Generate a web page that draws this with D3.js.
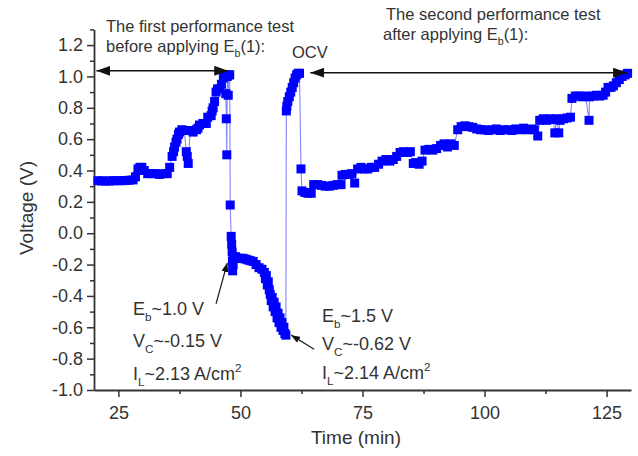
<!DOCTYPE html>
<html>
<head>
<meta charset="utf-8">
<style>
    body
    {
        margin:0;
        background:white;
    }
    text
    {
        font-family:"Liberation Sans", Arial, sans-serif;
        fill:#333;
    }
</style>
<script type="text/javascript" src="https://d3js.org/d3.v7.min.js"></script>
</head>
<body>
<svg id="chart"></svg>
<script>
    // [time (min), voltage (V)], in time order
    var firstTest = [
        [20.8,0.335],[21.6,0.333],[22.4,0.333],[23.2,0.333],[24,0.335],[24.8,0.335],[25.6,0.335],
        [26.4,0.336],[27.2,0.338],[28,0.34],[28.5,0.36],[29,0.41],[29.4,0.42],[29.8,0.42],
        [30.3,0.40],[31,0.38],[31.8,0.38],[32.6,0.38],[33.4,0.375],[34.2,0.38],[35,0.38],
        [35.5,0.42],[36,0.49],[36.3,0.52],[36.5,0.55],[36.8,0.58],[37,0.60],[37.3,0.63],
        [37.5,0.645],[38,0.66],[38.5,0.655],[38.9,0.52],[39.1,0.49],[39.3,0.445],[39.7,0.655],
        [40.3,0.645],[41,0.66],[41.3,0.67],[41.6,0.69],[42.3,0.70],[43,0.70],[43.3,0.74],
        [44,0.75],[44.2,0.78],[44.4,0.80],[44.7,0.84],[45,0.90],[45.3,0.92],[45.7,0.92],
        [46.1,0.95],[46.5,0.99],[46.8,1.01],[47,0.89],[47.1,0.73],[47.2,0.50],[47.3,1.0],
        [47.5,0.88],[47.6,1.01],[47.8,1.01]
    ];
    var breakdown = [
        [47.9,0.18],[48.1,-0.02],[48.2,-0.07],[48.3,-0.12],[48.35,-0.18],[48.4,-0.24],
        [48.5,-0.20],[48.6,-0.15],[49,-0.15],[49.5,-0.16],[50,-0.16],[50.5,-0.16],[51,-0.165],
        [51.5,-0.17],[52,-0.175],[52.6,-0.18],[53.2,-0.20],[53.8,-0.22],[54.4,-0.23],
        [54.9,-0.25],[55.1,-0.29],[55.3,-0.27],[55.5,-0.33],[55.7,-0.31],[55.9,-0.36],
        [56.1,-0.39],[56.3,-0.43],[56.5,-0.41],[56.7,-0.47],[56.9,-0.44],[57.1,-0.50],
        [57.3,-0.47],[57.5,-0.54],[57.7,-0.51],[57.9,-0.57],[58.1,-0.54],[58.3,-0.60],
        [58.5,-0.57],[58.7,-0.62],[58.9,-0.60],[59.1,-0.64],[59.3,-0.65]
    ];
    var ocvRun = [
        [59.4,0.78],[59.5,0.81],[59.7,0.84],[60,0.87],[60.3,0.90],[60.6,0.93],[60.9,0.96],
        [61.2,0.99],[61.5,1.01],[61.8,1.02],[62.1,1.02]
    ];
    var secondTest = [
        [62.4,0.41],[62.6,0.27],[63.2,0.26],[63.8,0.255],[64.5,0.255],[65,0.31],[65.8,0.31],
        [66.6,0.305],[67.4,0.30],[68.2,0.30],[69,0.305],[69.8,0.31],[70.6,0.31],[70.8,0.37],
        [71.5,0.375],[72.2,0.375],[72.8,0.38],[73.4,0.32],[74,0.41],[74.7,0.42],[75.4,0.41],
        [76.1,0.41],[76.8,0.42],[77.5,0.42],[78.3,0.44],[79,0.46],[79.8,0.47],[80.6,0.46],
        [81.3,0.47],[82,0.49],[82.7,0.515],[83.4,0.52],[84.1,0.515],[84.8,0.52],[85.4,0.445],
        [86,0.45],[86.6,0.44],[87.2,0.46],[87.8,0.53],[88.6,0.535],[89.4,0.53],[90.2,0.54],
        [91,0.56],[91.7,0.57],[92.4,0.55],[93.1,0.57],[93.8,0.56],[94.5,0.66],[95.2,0.68],
        [96,0.685],[96.8,0.68],[97.6,0.675],[98.4,0.665],[99.2,0.66],[100,0.66],[100.8,0.655],
        [101.6,0.66],[102.4,0.665],[103.2,0.655],[104,0.66],[104.8,0.66],[105.6,0.655],
        [106.4,0.665],[107.2,0.66],[108,0.67],[108.8,0.66],[109.6,0.665],[110.2,0.66],
        [110.9,0.62],[111.3,0.72],[112,0.73],[112.7,0.72],[113.4,0.73],[114.1,0.725],
        [114.4,0.64],[114.8,0.73],[115.2,0.64],[115.5,0.72],[116.2,0.73],[116.9,0.735],
        [117.6,0.74],[117.9,0.86],[118.6,0.875],[119.3,0.875],[120,0.87],[120.7,0.875],
        [121.4,0.72],[121.5,0.87],[122.2,0.875],[122.9,0.88],[123.6,0.875],[124.3,0.88],
        [124.8,0.90],[125.3,0.93],[125.9,0.93],[126.4,0.94],[127,0.96],[127.6,0.98],
        [128.2,1.0],[128.8,1.01],[129.3,1.02]
    ];

    var xTicks = [25,50,75,100,125];
    var xMinor = [37.5,62.5,87.5,112.5];
    var yTicks = [-1.0,-0.8,-0.6,-0.4,-0.2,0.0,0.2,0.4,0.6,0.8,1.0,1.2];
    var yMinor = [-0.9,-0.7,-0.5,-0.3,-0.1,0.1,0.3,0.5,0.7,0.9,1.1,1.3];

    var screen = {width:638,height:456};
    var svg = d3.select("#chart")
        .attr("width",screen.width)
        .attr("height",screen.height);

    var xScale = d3.scaleLinear()
        .domain([20,130])
        .range([94,631]);
    var yScale = d3.scaleLinear()
        .domain([-1.0,1.3])
        .range([390,29.4]);

    var defs = svg.append("defs");
    var addHead = function(id,len,wid)
    {
        defs.append("marker")
            .attr("id",id)
            .attr("viewBox","0 0 "+len+" "+wid)
            .attr("markerUnits","userSpaceOnUse")
            .attr("markerWidth",len)
            .attr("markerHeight",wid)
            .attr("refX",len)
            .attr("refY",wid/2)
            .attr("orient","auto-start-reverse")
            .append("path")
            .attr("d","M0,0L"+len+","+(wid/2)+"L0,"+wid+"Z")
            .attr("fill","#111");
    }
    addHead("bigHead",14,10);
    addHead("smallHead",9,7);

    // axes
    var drawAxes = function()
    {
        svg.append("g")
            .attr("transform","translate(0,390)")
            .call(d3.axisBottom(xScale).tickValues(xTicks).tickSize(7).tickSizeOuter(0).tickPadding(9));
        svg.append("g")
            .attr("transform","translate(0,390)")
            .call(d3.axisBottom(xScale).tickValues(xMinor).tickSize(4).tickSizeOuter(0).tickFormat(""))
            .select(".domain").remove();
        svg.append("g")
            .attr("transform","translate(94,0)")
            .call(d3.axisLeft(yScale).tickValues(yTicks).tickSize(7).tickSizeOuter(0).tickPadding(4)
                .tickFormat(function(d){return d.toFixed(1);}));
        svg.append("g")
            .attr("transform","translate(94,0)")
            .call(d3.axisLeft(yScale).tickValues(yMinor).tickSize(4).tickSizeOuter(0).tickFormat(""))
            .select(".domain").remove();

        svg.selectAll(".domain").attr("stroke","#333").attr("stroke-width",1.8);
        svg.selectAll(".tick line").attr("stroke","#333").attr("stroke-width",1.5);
        svg.selectAll(".tick text")
            .attr("font-family","Liberation Sans, Arial, sans-serif")
            .attr("font-size",18)
            .attr("fill","#333");

        svg.append("text")
            .attr("transform","translate(33,208) rotate(-90)")
            .attr("text-anchor","middle")
            .attr("font-size",19)
            .text("Voltage (V)");
        svg.append("text")
            .attr("x",356)
            .attr("y",444)
            .attr("text-anchor","middle")
            .attr("font-size",19)
            .text("Time (min)");
    }

    var drawSeries = function(points)
    {
        var line = d3.line()
            .x(function(d){return xScale(d[0]);})
            .y(function(d){return yScale(d[1]);});
        svg.append("path")
            .datum(points)
            .attr("d",line)
            .attr("fill","none")
            .attr("stroke","#8585ff")
            .attr("stroke-width",1.1);
        svg.append("g")
            .selectAll("rect")
            .data(points)
            .enter()
            .append("rect")
            .attr("x",function(d){return xScale(d[0])-4.5;})
            .attr("y",function(d){return yScale(d[1])-4.5;})
            .attr("width",9)
            .attr("height",9)
            .attr("fill","#0000ff");
    }

    // text with sub/superscripts: parts = [[text, "sub"|"sup"|""], ...]
    var richText = function(x,y,parts,size)
    {
        var t = svg.append("text")
            .attr("x",x)
            .attr("y",y)
            .attr("font-size",size);
        var shift = 0;
        parts.forEach(function(p)
        {
            var target = p[1]=="sub" ? Math.round(size*0.32) : (p[1]=="sup" ? -Math.round(size*0.42) : 0);
            t.append("tspan")
                .attr("dy",target-shift)
                .attr("font-size",p[1]=="" ? size : size*0.65)
                .text(p[0]);
            shift = target;
        });
    }

    var drawNotes = function()
    {
        svg.append("line")
            .attr("x1",xScale(20.5)).attr("x2",xScale(47.5))
            .attr("y1",yScale(1.036)).attr("y2",yScale(1.036))
            .attr("stroke","#111").attr("stroke-width",1.5)
            .attr("marker-start","url(#bigHead)")
            .attr("marker-end","url(#bigHead)");
        svg.append("line")
            .attr("x1",xScale(64.3)).attr("x2",xScale(129.2))
            .attr("y1",yScale(1.024)).attr("y2",yScale(1.024))
            .attr("stroke","#111").attr("stroke-width",1.5)
            .attr("marker-start","url(#bigHead)")
            .attr("marker-end","url(#bigHead)");

        svg.append("line")
            .attr("x1",xScale(45.0)).attr("y1",yScale(-0.45))
            .attr("x2",xScale(47.3)).attr("y2",yScale(-0.19))
            .attr("stroke","#222").attr("stroke-width",1.2)
            .attr("marker-end","url(#smallHead)");
        svg.append("line")
            .attr("x1",xScale(65.1)).attr("y1",yScale(-0.74))
            .attr("x2",xScale(60.4)).attr("y2",yScale(-0.65))
            .attr("stroke","#222").attr("stroke-width",1.2)
            .attr("marker-end","url(#smallHead)");

        var fs = 16.5;
        richText(106,32,[["The first performance test",""]],fs);
        richText(106,52,[["before applying E",""],["b","sub"],["(1):",""]],fs);
        richText(292,58,[["OCV",""]],fs);
        richText(386,20,[["The second performance test",""]],fs);
        richText(383,40,[["after applying E",""],["b","sub"],["(1):",""]],fs);

        var ns = 18;
        richText(133,315,[["E",""],["b","sub"],["~1.0 V",""]],ns);
        richText(133,347,[["V",""],["C","sub"],["~-0.15 V",""]],ns);
        richText(133,380,[["I",""],["L","sub"],["~2.13 A/cm",""],["2","sup"]],ns);
        richText(322,322,[["E",""],["b","sub"],["~1.5 V",""]],ns);
        richText(322,350,[["V",""],["C","sub"],["~-0.62 V",""]],ns);
        richText(322,379,[["I",""],["L","sub"],["~2.14 A/cm",""],["2","sup"]],ns);
    }

    drawAxes();
    drawSeries(firstTest.concat(breakdown,ocvRun,secondTest));
    drawNotes();
</script>
</body>
</html>
